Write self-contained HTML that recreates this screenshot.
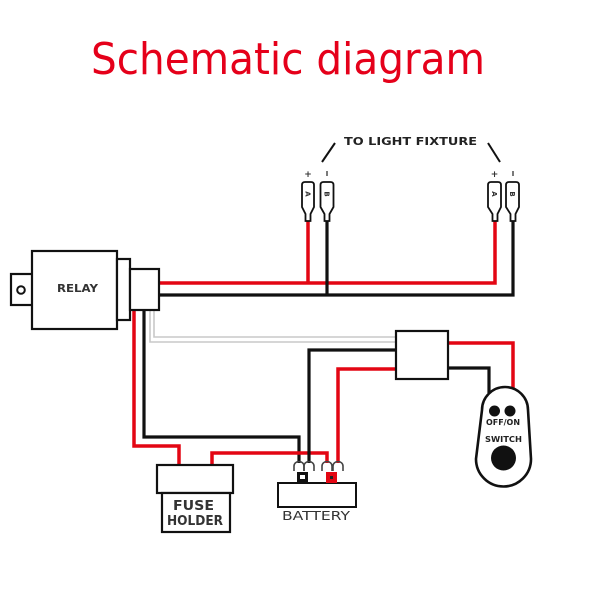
<!DOCTYPE html>
<html>
<head>
<meta charset="utf-8">
<style>
  html,body{margin:0;padding:0;background:#fff;}
  svg{display:block;}
</style>
</head>
<body>
<svg width="600" height="600" viewBox="0 0 600 600" xmlns="http://www.w3.org/2000/svg">
  <rect width="600" height="600" fill="#fff"/>

  <!-- Title -->
  <text x="91" y="74" font-family="'DejaVu Sans', 'Liberation Sans', sans-serif" font-size="44" fill="#e5001a" textLength="394" lengthAdjust="spacingAndGlyphs">Schematic diagram</text>

  <!-- TO LIGHT FIXTURE -->
  <text x="344" y="145" font-family="'DejaVu Sans', 'Liberation Sans', sans-serif" font-size="11" font-weight="bold" fill="#222" textLength="133" lengthAdjust="spacingAndGlyphs">TO LIGHT FIXTURE</text>
  <line x1="335" y1="143" x2="322" y2="162" stroke="#111" stroke-width="2"/>
  <line x1="488" y1="143" x2="500" y2="162" stroke="#111" stroke-width="2"/>

  <!-- grey wires -->
  <polyline points="150,310 150,342 396,342" fill="none" stroke="#c8c8c8" stroke-width="1.6"/>
  <polyline points="154,310 154,337 396,337" fill="none" stroke="#c8c8c8" stroke-width="1.6"/>

  <!-- top wires -->
  <polyline points="159,283 495,283 495,220" fill="none" stroke="#e30613" stroke-width="3.5"/>
  <line x1="308" y1="283" x2="308" y2="220" stroke="#e30613" stroke-width="3.5"/>
  <polyline points="159,295 513,295 513,220" fill="none" stroke="#111" stroke-width="3.2"/>
  <line x1="327" y1="295" x2="327" y2="220" stroke="#111" stroke-width="3.2"/>

  <!-- relay down wires -->
  <polyline points="134,310 134,446 179,446 179,466" fill="none" stroke="#e30613" stroke-width="3.5"/>
  <polyline points="144,310 144,437 299,437 299,463" fill="none" stroke="#111" stroke-width="3.2"/>

  <!-- fuse to battery red -->
  <polyline points="212,466 212,453 327,453 327,463" fill="none" stroke="#e30613" stroke-width="3.5"/>

  <!-- box to battery -->
  <polyline points="397,350 309,350 309,463" fill="none" stroke="#111" stroke-width="3.2"/>
  <polyline points="397,369 338,369 338,463" fill="none" stroke="#e30613" stroke-width="3.5"/>

  <!-- box to switch -->
  <polyline points="447,343 513,343 513,390" fill="none" stroke="#e30613" stroke-width="3.5"/>
  <polyline points="447,368 489,368 489,393" fill="none" stroke="#111" stroke-width="3.2"/>

  <!-- Relay -->
  <rect x="11" y="274" width="22" height="31" fill="#fff" stroke="#111" stroke-width="2.2"/>
  <circle cx="21" cy="290" r="3.8" fill="none" stroke="#111" stroke-width="2"/>
  <rect x="32" y="251" width="85" height="78" fill="#fff" stroke="#111" stroke-width="2.2"/>
  <rect x="117" y="259" width="13" height="61" fill="#fff" stroke="#111" stroke-width="2.2"/>
  <rect x="130" y="269" width="29" height="41" fill="#fff" stroke="#111" stroke-width="2.2"/>
  <text x="57" y="292" font-family="'DejaVu Sans', 'Liberation Sans', sans-serif" font-size="11" font-weight="bold" fill="#333" textLength="41" lengthAdjust="spacingAndGlyphs">RELAY</text>

  <!-- Right box -->
  <rect x="396" y="331" width="52" height="48" fill="#fff" stroke="#111" stroke-width="2.2"/>

  <!-- Spade connectors -->
  <g fill="#fff" stroke="#111" stroke-width="1.8">
    <path d="M302,185 Q302,182 305,182 L311,182 Q314,182 314,185 L314,207 L310.5,214 L310.5,221 L305.5,221 L305.5,214 L302,207 Z"/>
    <path d="M320.5,185 Q320.5,182 323.5,182 L330.5,182 Q333.5,182 333.5,185 L333.5,207 L329.5,214 L329.5,221 L324.5,221 L324.5,214 L320.5,207 Z"/>
    <path d="M488,185 Q488,182 491,182 L498,182 Q501,182 501,185 L501,207 L497.5,214 L497.5,221 L492.5,221 L492.5,214 L488,207 Z"/>
    <path d="M506,185 Q506,182 509,182 L516,182 Q519,182 519,185 L519,207 L515.5,214 L515.5,221 L510.5,221 L510.5,214 L506,207 Z"/>
  </g>
  <g font-family="'DejaVu Sans', 'Liberation Sans', sans-serif" font-size="7" font-weight="bold" fill="#333" text-anchor="middle">
    <text transform="translate(308,194) rotate(90)" y="2.5">A</text>
    <text transform="translate(327,194) rotate(90)" y="2.5">B</text>
    <text transform="translate(494.5,194) rotate(90)" y="2.5">A</text>
    <text transform="translate(512.5,194) rotate(90)" y="2.5">B</text>
    <text x="308" y="177" font-size="9">+</text>
    <text x="494.5" y="177" font-size="9">+</text>
  </g>
  <line x1="327" y1="171" x2="327" y2="176" stroke="#333" stroke-width="1.3"/>
  <line x1="513" y1="171" x2="513" y2="176" stroke="#333" stroke-width="1.3"/>

  <!-- Fuse holder -->
  <rect x="157" y="465" width="76" height="28" fill="#fff" stroke="#111" stroke-width="2.2"/>
  <rect x="162" y="493" width="68" height="39" fill="#fff" stroke="#111" stroke-width="2.2"/>
  <text x="173" y="510" font-family="'DejaVu Sans', 'Liberation Sans', sans-serif" font-size="13" font-weight="bold" fill="#333" textLength="41" lengthAdjust="spacingAndGlyphs">FUSE</text>
  <text x="167" y="525" font-family="'DejaVu Sans', 'Liberation Sans', sans-serif" font-size="13" font-weight="bold" fill="#333" textLength="56" lengthAdjust="spacingAndGlyphs">HOLDER</text>

  <!-- Battery -->
  <rect x="278" y="483" width="78" height="24" fill="#fff" stroke="#111" stroke-width="2"/>
  <rect x="297" y="472" width="11" height="11" fill="#111"/>
  <rect x="300" y="475" width="5" height="4" fill="#fff"/>
  <rect x="326" y="472" width="11" height="11" fill="#e30613"/>
  <rect x="330" y="476" width="3" height="3" fill="#222"/>
  <text x="282" y="520" font-family="'DejaVu Sans', 'Liberation Sans', sans-serif" font-size="12" fill="#333" textLength="68" lengthAdjust="spacingAndGlyphs">BATTERY</text>
  <!-- ring lugs -->
  <g fill="none" stroke="#444" stroke-width="1.6">
    <path d="M294,471 L294,466 A5,4.5 0 0 1 304,466 L304,471"/>
    <path d="M304,471 L304,466 A5,4.5 0 0 1 314,466 L314,471"/>
    <path d="M322,471 L322,466 A5,4.5 0 0 1 332,466 L332,471"/>
    <path d="M333,471 L333,466 A5,4.5 0 0 1 343,466 L343,471"/>
  </g>

  <!-- Switch -->
  <path d="M482,410 A23,23 0 0 1 528,410 L531,459 A27.5,27.5 0 0 1 476,459 Z" fill="#fff" stroke="#111" stroke-width="2.6"/>
  <circle cx="494.5" cy="411" r="5.5" fill="#111"/>
  <circle cx="510" cy="411" r="5.5" fill="#111"/>
  <text x="486" y="425" font-family="'DejaVu Sans', 'Liberation Sans', sans-serif" font-size="8" font-weight="bold" fill="#222" textLength="34" lengthAdjust="spacingAndGlyphs">OFF/ON</text>
  <text x="485" y="442" font-family="'DejaVu Sans', 'Liberation Sans', sans-serif" font-size="8" font-weight="bold" fill="#222" textLength="37" lengthAdjust="spacingAndGlyphs">SWITCH</text>
  <circle cx="503.5" cy="458" r="12.5" fill="#111"/>
</svg>
</body>
</html>
